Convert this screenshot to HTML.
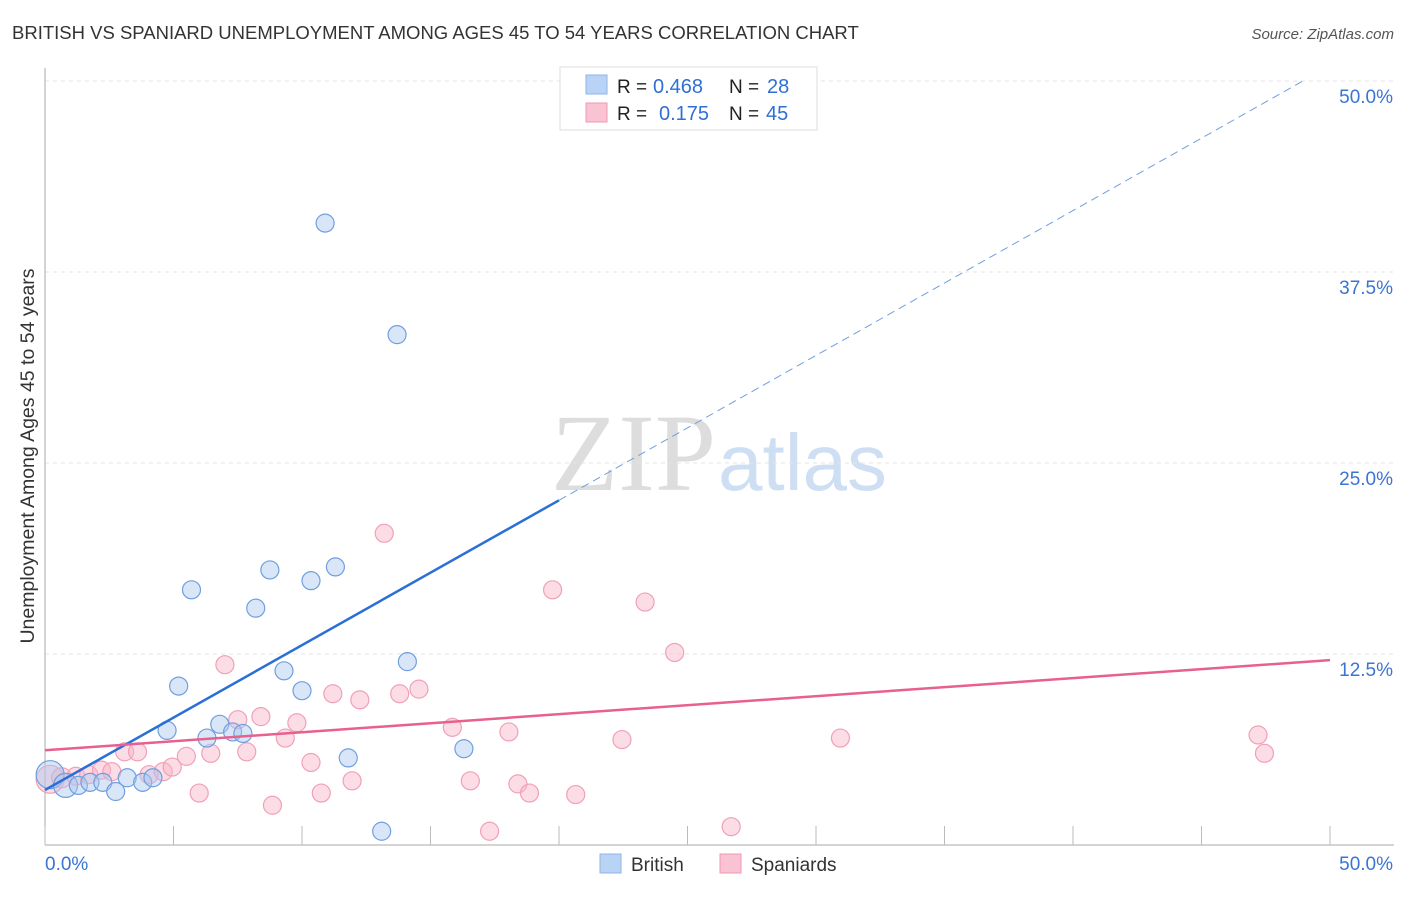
<!DOCTYPE html>
<html><head><meta charset="utf-8"><style>
body{margin:0;background:#fff;font-family:"Liberation Sans",sans-serif}
</style></head><body>
<svg width="1406" height="892" xmlns="http://www.w3.org/2000/svg" font-family="Liberation Sans, sans-serif">
<text x="12" y="39" font-size="18.5" fill="#333">BRITISH VS SPANIARD UNEMPLOYMENT AMONG AGES 45 TO 54 YEARS CORRELATION CHART</text>
<text x="1394" y="39" font-size="15" fill="#555" text-anchor="end" font-style="italic">Source: ZipAtlas.com</text>
<text x="716" y="490" font-size="110" fill="#ddd" text-anchor="end" font-family="Liberation Serif, serif">ZIP</text>
<text x="718" y="490" font-size="80" fill="#cfdff3">atlas</text>
<g id="grid"></g><g id="axes"></g>
<text transform="translate(34,456) rotate(-90)" font-size="19.5" fill="#333" text-anchor="middle">Unemployment Among Ages 45 to 54 years</text>
<g id="pts"></g><g id="lines"></g>
<g>
<rect x="560" y="67" width="257" height="63" fill="#fff" stroke="#ddd"/>
<rect x="586" y="75" width="21" height="19" fill="#b8d3f5" stroke="#8fb4e8"/>
<rect x="586" y="103" width="21" height="19" fill="#f9c3d3" stroke="#ef9ab4"/>
<text x="617" y="93" font-size="19" fill="#222">R =</text>
<text x="653" y="93" font-size="20" fill="#2f6fd6">0.468</text>
<text x="729" y="93" font-size="19" fill="#222">N =</text>
<text x="767" y="93" font-size="20" fill="#2f6fd6">28</text>
<text x="617" y="120" font-size="19" fill="#222">R =</text>
<text x="659" y="120" font-size="20" fill="#2f6fd6">0.175</text>
<text x="729" y="120" font-size="19" fill="#222">N =</text>
<text x="766" y="120" font-size="20" fill="#2f6fd6">45</text>
</g>
<g>
<rect x="600" y="854" width="21" height="19" fill="#b8d3f5" stroke="#8fb4e8"/>
<text x="631" y="871" font-size="19" fill="#333">British</text>
<rect x="720" y="854" width="21" height="19" fill="#f9c3d3" stroke="#ef9ab4"/>
<text x="751" y="871" font-size="19" fill="#333">Spaniards</text>
</g>
</svg>
<script>
const yTicks=[12.5,25,37.5,50];
const yTickLabels=["12.5%","25.0%","37.5%","50.0%"];
const britishX=[0.2,0.8,1.3,1.75,2.25,2.75,3.2,3.8,4.2,4.75,5.2,5.7,6.3,6.8,7.3,7.7,8.2,8.75,9.3,10.0,10.35,10.9,11.3,11.8,13.1,13.7,14.1,16.3];
const britishY=[4.6,3.9,3.9,4.1,4.1,3.5,4.4,4.1,4.4,7.5,10.4,16.7,7.0,7.9,7.4,7.3,15.5,18.0,11.4,10.1,17.3,40.7,18.2,5.7,0.9,33.4,12.0,6.3];
const britishR=[14,12,9,9,9,9,9,9,9,9,9,9,9,9,9,9,9,9,9,9,9,9,9,9,9,9,9,9];
const spanX=[0.2,0.65,1.2,1.7,2.2,2.6,3.1,3.6,4.05,4.6,4.95,5.5,6.0,6.45,7.0,7.5,7.85,8.4,8.85,9.35,9.8,10.35,10.75,11.2,11.95,12.25,13.2,13.8,14.55,15.85,16.55,17.3,18.05,18.4,18.85,19.75,20.65,22.45,23.35,24.5,26.7,30.95,47.2,47.45,20.55];
const spanY=[4.3,4.4,4.5,4.6,4.9,4.8,6.1,6.1,4.6,4.8,5.1,5.8,3.4,6.0,11.8,8.2,6.1,8.4,2.6,7.0,8.0,5.4,3.4,9.9,4.2,9.5,20.4,9.9,10.2,7.7,4.2,0.9,7.4,4.0,3.4,16.7,3.3,6.9,15.9,12.6,1.2,7.0,7.2,6.0,47.7];
const spanR=[14,10,9,9,9,9,9,9,9,9,9,9,9,9,9,9,9,9,9,9,9,9,9,9,9,9,9,9,9,9,9,9,9,9,9,9,9,9,9,9,9,9,9,9,9];
const britishTrend=[0,3.6,0.948];
const spanTrend=[0,6.2,0.118];
const X=v=>45+v*25.7, Y=v=>845-v*15.28;
const NS="http://www.w3.org/2000/svg";
function mk(t,a,p){const e=document.createElementNS(NS,t);for(const k in a)e.setAttribute(k,a[k]);document.getElementById(p).appendChild(e);return e;}
yTicks.forEach((t,i)=>{
 const g=mk('line',{x1:45,x2:1394,y1:Y(t),y2:Y(t),stroke:'#e4e4e4','stroke-dasharray':'4,4'},'grid');
 
 
 const l=mk('text',{x:1393,y:Y(t)+22,'font-size':19,fill:'#3a74d4','text-anchor':'end'},'grid');
 l.textContent=yTickLabels[i];
 
 
});
const ax=mk('line',{x1:45,x2:45,y1:68,y2:845,stroke:'#aaa'},'axes');


const bx=mk('line',{x1:45,x2:1394,y1:845,y2:845,stroke:'#aaa'},'axes');


for(let i=0;i<=10;i++){const t=mk('line',{x1:X(i*5),x2:X(i*5),y1:826,y2:845,stroke:'#bbb'},'axes');
 
 }
[[0,"0.0%",'start',45],[50,"50.0%",'end',1393]].forEach(d=>{const t=mk('text',{x:d[3],y:870,'font-size':19,fill:'#3a74d4','text-anchor':d[2]},'axes');t.textContent=d[1];
 
 });
spanX.forEach((x,i)=>{const c=mk('circle',{cx:X(x),cy:Y(spanY[i]),r:spanR[i],fill:'rgba(248,180,200,0.45)',stroke:'#f0a0b8','stroke-width':1.2},'pts');
 
 });
britishX.forEach((x,i)=>{const c=mk('circle',{cx:X(x),cy:Y(britishY[i]),r:britishR[i],fill:'rgba(170,200,240,0.45)',stroke:'#6f9fdf','stroke-width':1.2},'pts');
 
 });
const bt=v=>britishTrend[1]+britishTrend[2]*v;
let l1=mk('line',{x1:X(0),y1:Y(bt(0)),x2:X(20),y2:Y(bt(20)),stroke:'#2a6fd6','stroke-width':2.5},'lines');


let l2=mk('line',{x1:X(20),y1:Y(bt(20)),x2:X(49),y2:Y(bt(49)),stroke:'#6f9fdf','stroke-width':1,'stroke-dasharray':'8,5'},'lines');


const st=v=>spanTrend[1]+spanTrend[2]*v;
let l3=mk('line',{x1:X(0),y1:Y(st(0)),x2:X(50),y2:Y(st(50)),stroke:'#e8608e','stroke-width':2.5},'lines');


</script>
</body></html>
